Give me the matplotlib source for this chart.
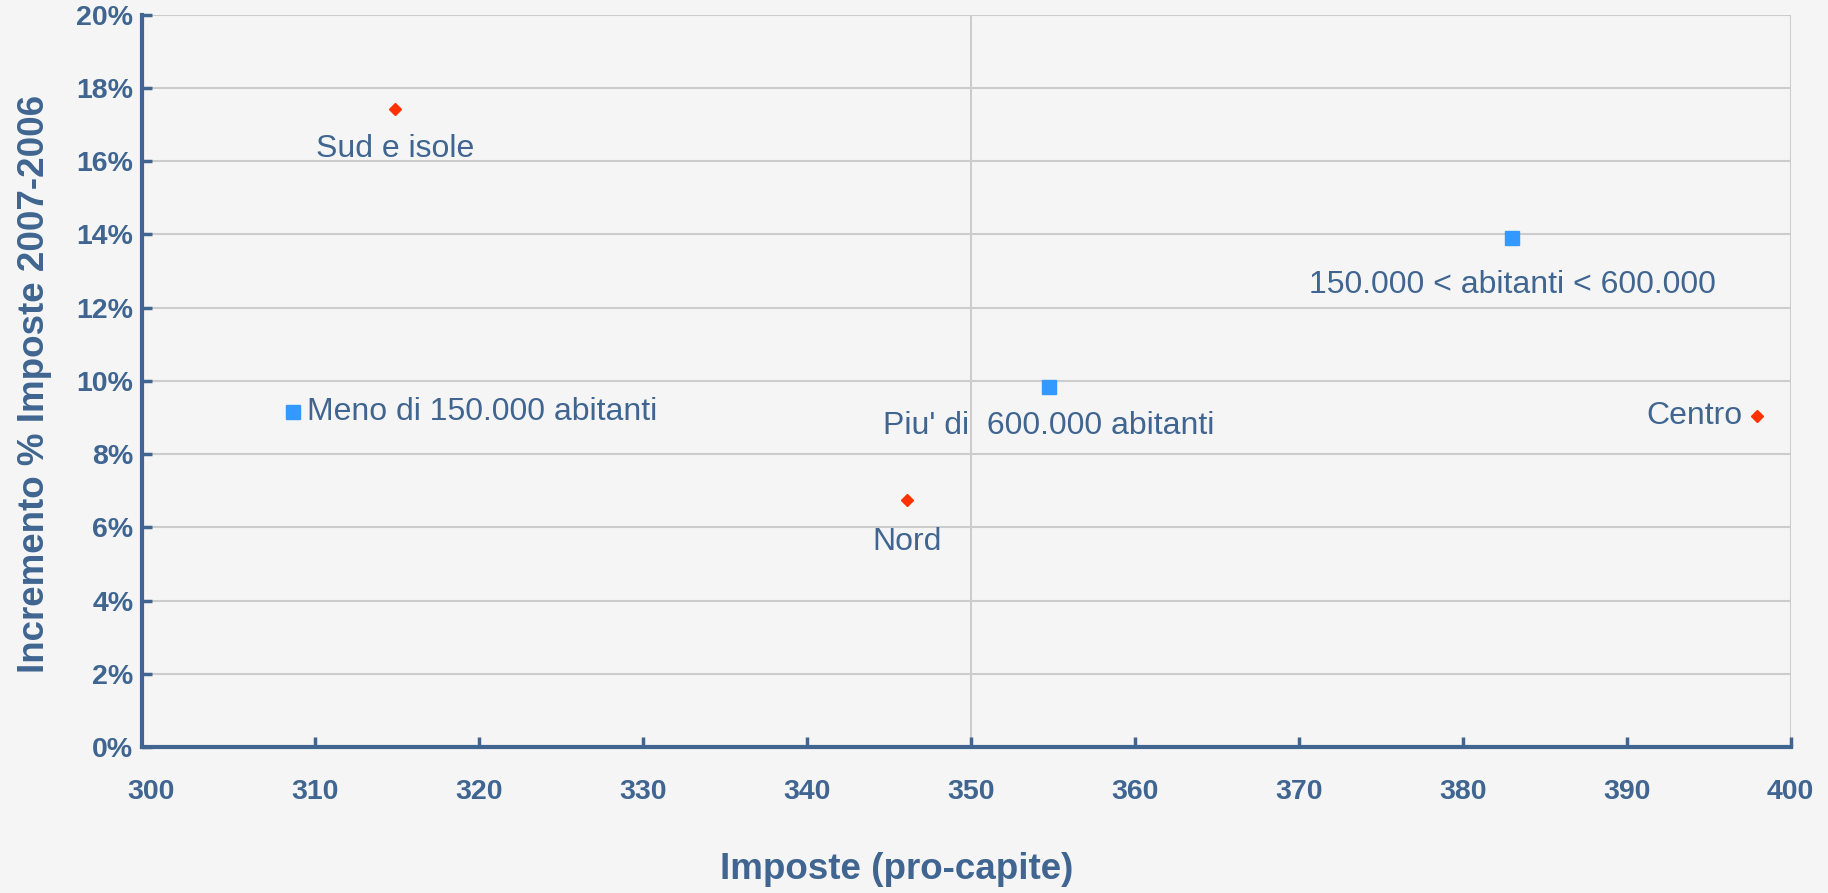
import matplotlib.pyplot as plt
from matplotlib.ticker import FuncFormatter

# Data
labels = ["Sud e isole", "Nord", "Centro",
          "Meno di 150.000 abitanti", "Piu' di  600.000 abitanti",
          "150.000 < abitanti < 600.000"]
imposte = [314.86, 346.12, 397.94, 308.62, 354.77, 383.01]
incremento = [17.43, 6.75, 9.04, 9.16, 9.83, 13.9]
gruppo = ["area", "area", "area", "pop", "pop", "pop"]

x_ticks = [300, 310, 320, 330, 340, 350, 360, 370, 380, 390, 400]
y_ticks = [0, 2, 4, 6, 8, 10, 12, 14, 16, 18, 20]

# label placement (offset in points, alignment)
placement = {
    "Sud e isole": ((0, -29), "center"),
    "Nord": ((0, -30), "center"),
    "Centro": ((-10, 0), "right"),
    "Meno di 150.000 abitanti": ((10, 0), "left"),
    "Piu' di  600.000 abitanti": ((0, -28), "center"),
    "150.000 < abitanti < 600.000": ((0, -34), "center"),
}

blue_text = "#3f6590"
bg = "#f5f5f5"

plt.rcParams["font.family"] = ["Liberation Sans", "DejaVu Sans"]

fig = plt.figure(figsize=(18.28, 8.93), dpi=100, facecolor=bg)
ax = fig.add_axes([141.7 / 1828, 1 - 747 / 893, 1648.8 / 1828, 732.3 / 893])
ax.set_facecolor(bg)

# Points
for xv, yv, g in zip(imposte, incremento, gruppo):
    if g == "pop":
        ax.plot(xv, yv, marker="s", ms=9.5, color="#3399ff", mec="#3399ff",
                ls="none", zorder=3)
    else:
        ax.plot(xv, yv, marker="D", ms=6.5, color="#ff3300", mec="#ff3300",
                ls="none", zorder=3)

# Labels next to the points
for lab, xv, yv in zip(labels, imposte, incremento):
    off, ha = placement[lab]
    ax.annotate(lab, (xv, yv), xytext=off, textcoords="offset points",
                ha=ha, va="center", fontsize=23, color=blue_text, zorder=4)

# Axes (the x axis starts a bit before 300, as in the original)
ax.set_xlim(299.41, 400)
ax.set_ylim(0, 20)
ax.set_xticks(x_ticks)
ax.set_yticks(y_ticks)
ax.yaxis.set_major_formatter(FuncFormatter(lambda v, p: f"{v:.0f}%"))

# Gridlines: every 2% horizontally, vertical only at 350 and 400
for yv in y_ticks[1:]:
    ax.axhline(yv, color="#cccccc", lw=1.5, zorder=1)
for xv in [350, 400]:
    ax.axvline(xv, color="#cccccc", lw=1.5, zorder=1)

for side in ["top", "right"]:
    ax.spines[side].set_visible(False)
for side in ["left", "bottom"]:
    ax.spines[side].set_color(blue_text)
    ax.spines[side].set_linewidth(3)
    ax.spines[side].set_zorder(5)

ax.tick_params(axis="both", direction="in", length=7, width=2.5,
               color=blue_text, labelcolor=blue_text, labelsize=20.5)
ax.tick_params(axis="x", pad=23)
ax.tick_params(axis="y", pad=6)
for t in ax.get_xticklabels() + ax.get_yticklabels():
    t.set_fontweight("bold")

# no tick mark at 300 in the original, only the label
ax.xaxis.get_major_ticks()[0].tick1line.set_visible(False)

ax.set_xlabel("Imposte (pro-capite)", fontsize=26.5, fontweight="bold",
              color=blue_text, va="center")
ax.xaxis.set_label_coords(0.458, -0.167)
ax.set_ylabel("Incremento % Imposte 2007-2006", fontsize=26.5,
              fontweight="bold", color=blue_text, va="center")
ax.yaxis.set_label_coords(-0.065, 0.496)

fig.savefig("out.png", dpi=100, facecolor=bg)
